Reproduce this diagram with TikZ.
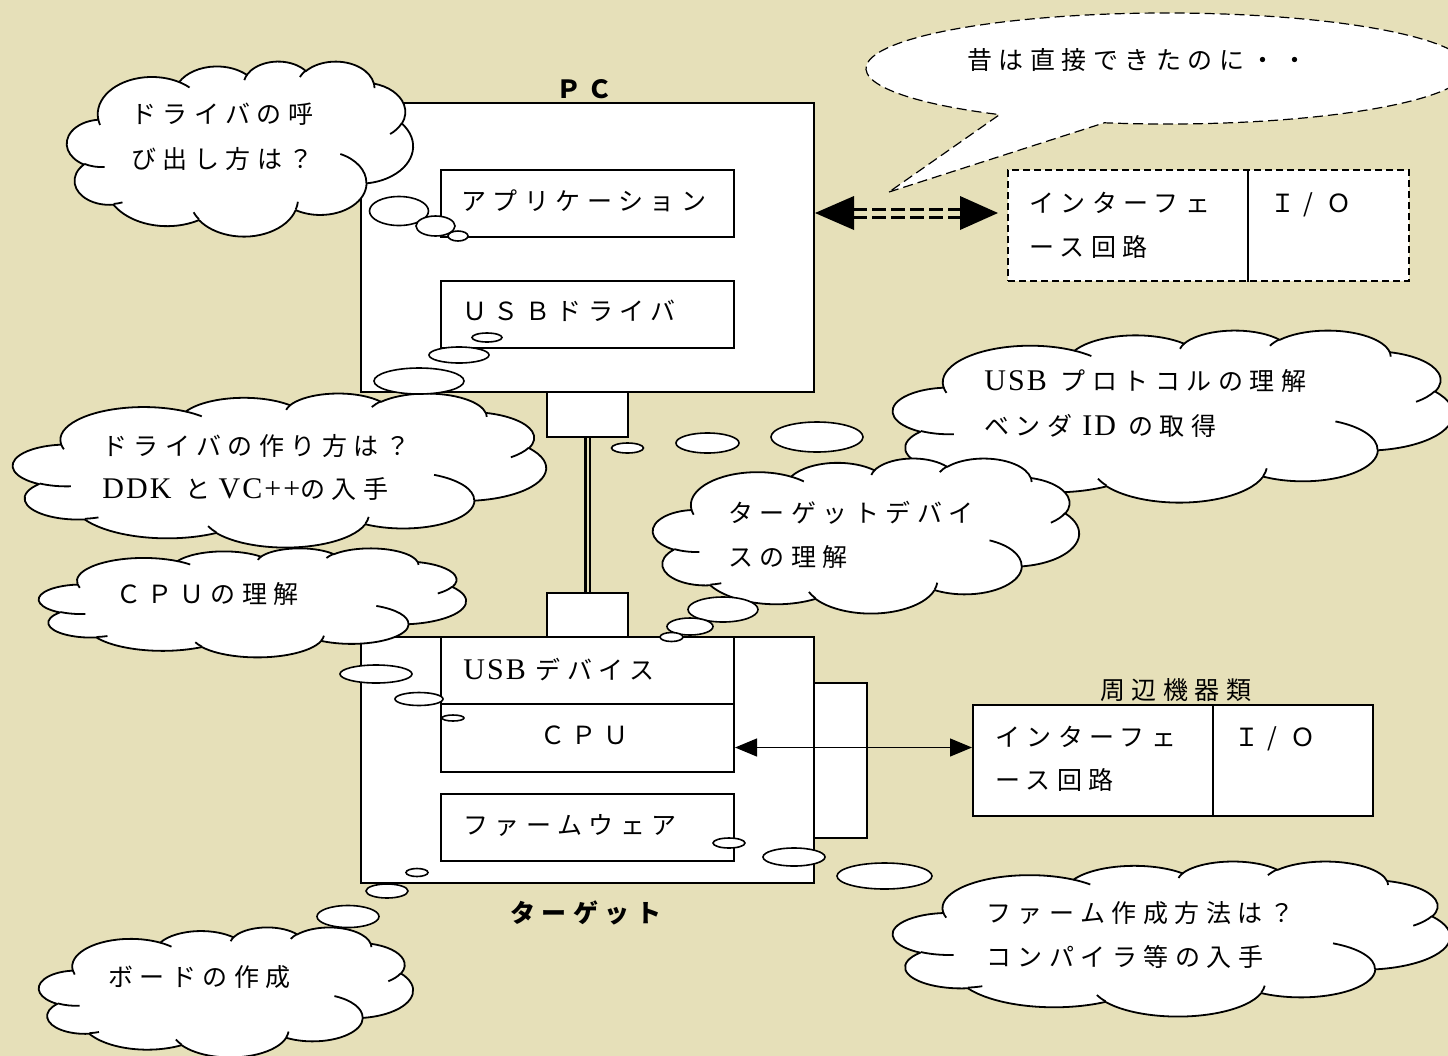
\documentclass[tikz,border=0pt]{standalone}
\usepackage{fontspec}
\setmainfont{Liberation Serif}
\newfontfamily\jp{Noto Sans CJK JP}[LetterSpace=26]
\newfontfamily\lat{Liberation Serif}[LetterSpace=7]
\usetikzlibrary{arrows.meta,calc}
\definecolor{bg}{RGB}{230,224,185}
\newcommand\jpf{\jp\fontsize{12.5}{15}\selectfont}
\newcommand\latf{\lat\fontsize{15}{15}\selectfont}
\newcommand\slashIO{Ｉ\makebox[12.5pt]{/}\hspace{3.25pt}Ｏ}
\newcommand\carc[4]{arc[x radius=#1,y radius=#2,start angle={vis(#3,#1,#2)},end angle={vis(#3+#4,#1,#2)}]}
\tikzset{
  declare function={vis(\pA,\pB,\pC)=\pA+mod(atan2(\pB*sin(\pA),\pC*cos(\pA))-(\pA)+540,360)-180;},
  cloudline/.style={draw=black,line width=0.9pt,line join=round},
  bubble/.style={draw=black,fill=white,line width=0.8pt},
  box/.style={draw=black,fill=white,line width=1pt,inner sep=0pt,anchor=north west},
  txt/.style={anchor=base west,inner sep=0pt,font=\jpf},
  lbl/.style={anchor=base west,inner sep=0pt,font=\jpf\bfseries},
  cable/.style={double=bg,double distance=1pt,line width=1.35pt},
  dshaft/.style={double=bg,double distance=2.5pt,line width=1.5pt,dash pattern=on 7pt off 2.5pt},
  sbline/.style={draw=black,fill=white,line width=0.6pt,dash pattern=on 5pt off 2.5pt},
  dbox/.style={box,dash pattern=on 3.5pt off 2pt},
  pics/cloud/.style 2 args={code={
    \begin{scope}[x=1pt,y=1pt,xscale=#1/864,yscale=-#2/864]
      \path[cloudline,fill=white] (39,143.7)
        \carc{67.53}{91.90}{-190.4875}{123.7805}
        \carc{53.33}{72.67}{-144.1024}{89.9452}
        \carc{43.65}{59.45}{-145.8079}{99.7230}
        \carc{48.57}{65.95}{-130.9861}{117.2417}
        \carc{53.33}{72.73}{-78.7089}{109.0269}
        \carc{67.75}{92.20}{-46.2673}{130.2690}
        \carc{57.85}{78.67}{0.6250}{114.0333}
        \carc{67.52}{92.15}{22.4516}{115.1726}
        \carc{77.20}{105.43}{66.2426}{75.7110}
        \carc{43.60}{59.18}{-274.9421}{146.7356}
        \carc{43.45}{59.45}{-246.8285}{152.5226}
        -- cycle;
      \path[cloudline]
        (46.93,261.77) \carc{43.45}{59.45}{86.742}{26.430}
        (69.28,348.99) \carc{43.60}{59.18}{73.610}{11.447}
        (164.78,390.90) \carc{67.52}{92.15}{137.624}{14.081}
        (288.27,347.51) \carc{67.52}{92.15}{6.453}{15.998}
        (341.29,229.54) \carc{57.85}{78.67}{-70.292}{70.917}
        (417.98,153.54) \carc{53.33}{72.73}{30.318}{27.752}
        (383.24,54.26) \carc{48.57}{65.95}{-13.744}{14.859}
        (290.78,39.52) \carc{48.57}{65.95}{-149.181}{18.195}
        (221.41,47.20) \carc{43.65}{59.45}{-163.494}{17.686}
        (140.00,51.92) \carc{67.53}{91.90}{-66.707}{12.319}
        (41.27,157.89) \carc{67.53}{91.90}{157.654}{11.858};
    \end{scope}
  }},
}
\begin{document}
\begin{tikzpicture}[x=0.5pt,y=-0.5pt]
\useasboundingbox (0,0) rectangle (1448,1056);
\fill[bg] (0,0) rectangle (1448,1056);
\clip (0,0) rectangle (1448,1056);

% speech bubble
\coordinate (sbc) at (1167,68.5);
\coordinate (sbtip) at (889,192);
\draw[sbline] (sbtip) -- ([shift={(-102:150.5pt and 27.75pt)}]sbc)
  arc[start angle=-102,end angle=236.2,x radius=150.5pt,y radius=27.75pt] -- cycle;
\node[txt] (sbt) at (967,69.5) {昔は直接できたのに・・};

% PC
\node[box,minimum width=226.5pt,minimum height=144.5pt] (pc) at (360,102) {};
\node[lbl] (pcl) at (556,98) {ＰＣ};
\node[box,minimum width=146.5pt,minimum height=33.5pt] (app) at (440,169) {};
\node[txt] (appt) at (461,210.5) {アプリケーション};
\node[box,minimum width=146.5pt,minimum height=33.5pt] (drv) at (440,280) {};
\node[txt] (drvt) at (462,320.5) {ＵＳＢドライバ};
\node[box,minimum width=40.5pt,minimum height=22.5pt] (pcc) at (546,391) {};
\node[box,minimum width=40.5pt,minimum height=22pt] (tgc) at (546,592) {};
\draw[cable] (pcc.south) -- (tgc.north);

% target
\node[box,minimum width=226.5pt,minimum height=123pt] (tg) at (360,636) {};
\node[box,minimum width=146.5pt,minimum height=33.5pt] (usbd) at (440,636) {};
\node[txt] (usbdt) at (463,679.5) {{\latf USB}\hspace{5pt}デバイス};
\node[box,minimum width=146.5pt,minimum height=33.75pt] (cpu) at (440,703) {};
\node[txt] (cput) at (540,744.5) {ＣＰＵ};
\node[box,minimum width=146.5pt,minimum height=33.5pt] (fw) at (440,793) {};
\node[txt] (fwt) at (463,834.5) {ファームウェア};
\node[box,minimum width=26.5pt,minimum height=77.5pt] (side) at (813,682) {};
\node[lbl] (tgl) at (510,922.5) {ターゲット};

% peripherals
\node[txt] (perl) at (1100,699.5) {周辺機器類};
\node[box,minimum width=120pt,minimum height=55.5pt] (pl) at (972,704) {};
\node[box,minimum width=80pt,minimum height=55.5pt] (pr) at (1212,704) {};
\node[txt] (plt1) at (995,746.5) {インターフェ};
\node[txt] (plt2) at (995,789.5) {ース回路};
\node[txt] (prt) at (1234,746.5) {\slashIO};
\coordinate (ay) at (0,747.5);
\draw[{Triangle[length=11pt,width=9pt]}-{Triangle[length=11pt,width=9pt]},line width=0.6pt] (cpu.east |- ay) -- (pl.west |- ay);

% old direct interface (dashed)
\node[dbox,minimum width=200.5pt,minimum height=55.5pt] (db) at (1007,169) {};
\coordinate (dv) at (1248,0);
\draw[line width=0.6pt] (db.north -| dv) -- (db.south -| dv);
\node[txt] (dbt1) at (1029,212.5) {インターフェ};
\node[txt] (dbt2) at (1029,256.5) {ース回路};
\node[txt] (dbt3) at (1270,212.5) {\slashIO};
\coordinate (dy) at (0,213);
\coordinate (hl) at (pc.east |- dy);
\coordinate (hr) at ($(db.west |- dy)+(-9,0)$);
\draw[dshaft] ($(hl)+(38,0)$) -- ($(hr)+(-37,0)$);
\fill (hl) -- ++(39,-17) -- ++(0,34) -- cycle;
\fill (hr) -- ++(-38,-17) -- ++(0,34) -- cycle;

% cloud 1
\path (67,61) pic{cloud={346}{175}};
\draw[bubble] (399,211) ellipse[x radius=14.75pt,y radius=7.25pt];
\draw[bubble] (435.5,226) ellipse[x radius=9.75pt,y radius=5pt];
\draw[bubble] (458,236) ellipse[x radius=5pt,y radius=2.5pt];
\node[txt] (c1a) at (131,123) {ドライバの呼};
\node[txt] (c1b) at (131,168) {び出し方は？};

% cloud 2
\path (13,393) pic{cloud={533}{154}};
\draw[bubble] (419,381) ellipse[x radius=22.5pt,y radius=6.5pt];
\draw[bubble] (459,355) ellipse[x radius=15pt,y radius=4pt];
\draw[bubble] (487,337.5) ellipse[x radius=7.5pt,y radius=2.25pt];
\node[txt] (c2a) at (102,455.5) {ドライバの作り方は？};
\node[txt] (c2b) at (102,498) {{\latf DDK}\hspace{7pt}と\hspace{4pt}{\latf VC++}の入手};

% cloud 3
\path (39,548) pic{cloud={427}{109}};
\draw[bubble] (376,674) ellipse[x radius=18pt,y radius=4.5pt];
\draw[bubble] (419,699) ellipse[x radius=12pt,y radius=3.25pt];
\draw[bubble] (453,718) ellipse[x radius=5.5pt,y radius=1.5pt];
\node[txt] (c3a) at (116,603.5) {ＣＰＵの理解};

% cloud 4
\path (893,330) pic{cloud={560}{172}};
\draw[bubble] (627.5,448) ellipse[x radius=8pt,y radius=2.5pt];
\draw[bubble] (707.5,443) ellipse[x radius=15.75pt,y radius=5pt];
\draw[bubble] (817,437) ellipse[x radius=23pt,y radius=7.5pt];
\node[txt] (c4a) at (984,390.5) {{\latf USB}\hspace{7pt}プロトコルの理解};
\node[txt] (c4b) at (984,435.5) {ベンダ\hspace{5pt}{\latf ID}\hspace{6pt}の取得};

% cloud 5
\path (653,458) pic{cloud={426}{155}};
\draw[bubble] (723,609.5) ellipse[x radius=17.5pt,y radius=6.25pt];
\draw[bubble] (690,626.5) ellipse[x radius=11.5pt,y radius=4.25pt];
\draw[bubble] (671.5,637) ellipse[x radius=5.75pt,y radius=2.25pt];
\node[txt] (c5a) at (728,522) {ターゲットデバイ};
\node[txt] (c5b) at (728,566) {スの理解};

% cloud 6
\path (893,861) pic{cloud={557}{155}};
\draw[bubble] (729,843) ellipse[x radius=8pt,y radius=2.5pt];
\draw[bubble] (794,857) ellipse[x radius=15.5pt,y radius=4.5pt];
\draw[bubble] (884.5,876) ellipse[x radius=23.75pt,y radius=6.5pt];
\node[txt] (c6a) at (986,922) {ファーム作成方法は？};
\node[txt] (c6b) at (986,966) {コンパイラ等の入手};

% cloud 7
\path (39,927) pic{cloud={374}{130}};
\draw[bubble] (417,872.5) ellipse[x radius=5.5pt,y radius=2pt];
\draw[bubble] (387,891) ellipse[x radius=10.5pt,y radius=3.5pt];
\draw[bubble] (348,916.5) ellipse[x radius=15.5pt,y radius=5.5pt];
\node[txt] (c7a) at (108,986) {ボードの作成};
\end{tikzpicture}
\end{document}
